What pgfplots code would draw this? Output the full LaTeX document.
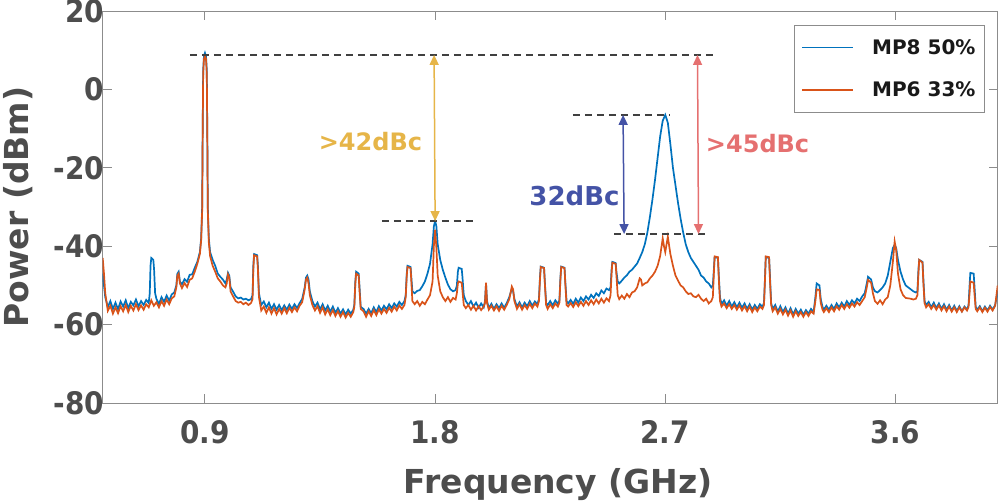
\documentclass[border=0pt]{standalone}
\usepackage{pgfplots}
\pgfplotsset{compat=1.18}
\usepackage{fontspec}
\setmainfont{DejaVu Sans}
\newfontfamily\condfont{DejaVu Sans Condensed}
\usetikzlibrary{arrows.meta}
\definecolor{mblue}{RGB}{0,114,189}
\definecolor{morange}{RGB}{217,83,25}
\definecolor{txtgray}{RGB}{77,77,77}
\definecolor{axgray}{RGB}{140,140,140}
\definecolor{agold}{RGB}{230,181,72}
\definecolor{ared}{RGB}{229,112,112}
\definecolor{aindigo}{RGB}{68,83,166}
\definecolor{dashgray}{RGB}{64,64,64}
\begin{document}
\begin{tikzpicture}
\useasboundingbox (-102.7bp,-101bp) rectangle (896.3bp,403bp);
\begin{axis}[
  at={(0,0)}, anchor=south west,
  scale only axis, width=895bp, height=392bp,
  xmin=0.5, xmax=4.0, ymin=-80, ymax=20,
  xtick={0.9,1.8,2.7,3.6}, xticklabels={0.9,1.8,2.7,3.6},
  ytick={-80,-60,-40,-20,0,20}, yticklabels={-80,-60,-40,-20,0,20},
  tick align=inside, major tick length=9bp,
  axis line style={axgray, line width=1bp},
  every tick/.style={axgray, line width=1bp},
  tick label style={font=\condfont\fontsize{31bp}{36bp}\selectfont\bfseries, text=txtgray},
  xticklabel style={yshift=-14bp},
  yticklabel style={xshift=5bp},
  xlabel={Frequency (GHz)}, ylabel={Power (dBm)},
  xlabel style={font=\fontsize{33bp}{38bp}\selectfont\bfseries, text=txtgray, at={(axis description cs:0.509,-0.2296)}, anchor=base},
  ylabel style={font=\fontsize{33bp}{38bp}\selectfont\bfseries, text=txtgray, at={(axis description cs:-0.095,0.5)}, anchor=center},
  legend style={at={(axis description cs:0.9858,0.9643)}, anchor=north east, draw=axgray, line width=1bp,
    font=\fontsize{20bp}{24bp}\selectfont\bfseries, text=black!90, inner xsep=7bp, inner ysep=12bp, row sep=22bp,
    /tikz/every odd column/.append style={column sep=16bp}},
  legend image code/.code={\draw[#1, line width=1.5bp] (0bp,0bp) -- (51bp,0bp);},
  legend cell align=left,
]
\addplot[mblue, line width=1.7bp] coordinates {
(0.500,-47) (0.505,-50) (0.510,-53) (0.520,-55.5) (0.530,-54.0) (0.540,-56.0) (0.550,-54.4) (0.560,-56.1)
(0.570,-54.1) (0.580,-55.4) (0.590,-53.8) (0.600,-55.8) (0.610,-54.2) (0.620,-55.1) (0.630,-53.6) (0.640,-55.3)
(0.650,-54.0) (0.660,-55.0) (0.670,-53.7) (0.680,-54.5) (0.684,-52) (0.687,-45) (0.690,-43) (0.698,-43.5)
(0.701,-46) (0.705,-52) (0.710,-53.4) (0.720,-54.8) (0.730,-53.0) (0.740,-54.2) (0.750,-52.6) (0.760,-53.9)
(0.770,-52.3) (0.780,-51.8) (0.788,-50) (0.792,-47) (0.797,-46.5) (0.802,-49) (0.810,-49.7) (0.820,-48.4)
(0.830,-49.1) (0.840,-47.3) (0.850,-47.2) (0.860,-45.5) (0.870,-44.0) (0.880,-41.5) (0.885,-38) (0.889,-30)
(0.891,-10) (0.893,5) (0.896,8.5) (0.900,9.3) (0.904,8.5) (0.907,5) (0.909,-10) (0.911,-30) (0.915,-38) (0.920,-41.5)
(0.930,-43.5) (0.940,-45.0) (0.950,-47.0) (0.960,-47.8) (0.970,-48.5) (0.980,-49.5) (0.985,-48.5) (0.990,-46.8)
(0.995,-47.5) (1.000,-50.5) (1.010,-51.6) (1.020,-52.8) (1.030,-53.3) (1.040,-53.1) (1.050,-53.6) (1.060,-53.4)
(1.070,-53.8) (1.080,-53.5) (1.086,-52.5) (1.089,-45) (1.092,-42) (1.104,-42.3) (1.107,-45) (1.111,-52)
(1.120,-55.0) (1.130,-54.1) (1.140,-55.6) (1.150,-54.4) (1.160,-56.0) (1.170,-54.8) (1.180,-56.2)
(1.190,-55.0) (1.200,-56.3) (1.210,-55.1) (1.220,-56.2) (1.230,-54.9) (1.240,-56.0) (1.250,-54.8) (1.260,-55.8)
(1.270,-54.5) (1.280,-53.5) (1.290,-50.5) (1.295,-48) (1.300,-47.5) (1.305,-48.5) (1.310,-51.5) (1.320,-54.0)
(1.330,-55.4) (1.340,-54.4) (1.350,-56.1) (1.360,-54.8) (1.370,-56.4) (1.380,-55.2) (1.390,-56.7) (1.400,-55.4)
(1.410,-57.0) (1.420,-55.8) (1.430,-57.2) (1.440,-56.1) (1.450,-57.4) (1.460,-56.2) (1.470,-57.2) (1.480,-56.2)
(1.484,-55) (1.488,-49) (1.491,-46.5) (1.501,-47) (1.504,-50) (1.509,-55.5) (1.520,-56.0)
(1.530,-57.2) (1.540,-56.0) (1.550,-57.1) (1.560,-55.6) (1.570,-56.8) (1.580,-55.3) (1.590,-56.4) (1.600,-55.2)
(1.610,-56.1) (1.620,-54.8) (1.630,-55.8) (1.640,-54.6) (1.650,-55.4) (1.660,-54.2) (1.670,-55.0) (1.680,-54.0)
(1.685,-52.5) (1.689,-47) (1.692,-45) (1.704,-45.3) (1.707,-48) (1.711,-51.5) (1.720,-52.0) (1.730,-51.4)
(1.740,-51.2) (1.750,-50.2) (1.760,-49.0) (1.770,-47.0) (1.780,-44.5) (1.790,-39.5) (1.795,-35) (1.800,-33.5)
(1.805,-35) (1.810,-39.5) (1.820,-43.5) (1.830,-46.0) (1.840,-48.0) (1.850,-49.8) (1.860,-51.0) (1.870,-51.5)
(1.880,-51.2) (1.885,-50) (1.889,-46.5) (1.892,-45.5) (1.904,-45.8) (1.907,-48) (1.912,-52.5) (1.920,-54.0)
(1.930,-55.0) (1.940,-54.0) (1.950,-55.4) (1.960,-54.4) (1.970,-55.7) (1.980,-54.6) (1.990,-55.6) (1.995,-54)
(1.999,-49.5) (2.003,-54) (2.010,-55.8) (2.020,-54.7) (2.030,-56.0) (2.040,-54.8) (2.050,-55.8) (2.060,-54.6)
(2.070,-55.7) (2.080,-54.5) (2.090,-53.0) (2.100,-50.8) (2.105,-51.5) (2.110,-53.5) (2.120,-55.4) (2.130,-54.3)
(2.140,-55.6) (2.150,-54.4) (2.160,-55.3) (2.170,-54.0) (2.180,-55.2) (2.190,-54.1) (2.200,-54.8)
(2.206,-53.5) (2.210,-48) (2.213,-45.2) (2.226,-45.5) (2.229,-49) (2.234,-54.5) (2.240,-55.0) (2.250,-54.0) (2.260,-55.1)
(2.270,-53.8) (2.280,-54.7) (2.286,-53.8) (2.290,-48) (2.293,-45.2) (2.306,-45.5) (2.309,-49) (2.314,-54)
(2.320,-54.6) (2.330,-53.7) (2.340,-54.7) (2.350,-53.4) (2.360,-54.4) (2.370,-53.1) (2.380,-54.0) (2.390,-52.8)
(2.400,-53.6) (2.410,-52.4) (2.420,-53.2) (2.430,-52.0) (2.440,-52.7) (2.450,-51.3) (2.460,-52.0) (2.470,-50.8)
(2.480,-51.2) (2.486,-50.5) (2.490,-46) (2.493,-44) (2.506,-44.3) (2.509,-46.5) (2.514,-49) (2.520,-49.5)
(2.530,-48.8) (2.540,-48.0) (2.550,-47.4) (2.560,-46.5) (2.570,-46.0) (2.580,-45.2) (2.590,-44.4) (2.600,-43.0)
(2.610,-41.5) (2.620,-39.5) (2.630,-36.5) (2.640,-32.5) (2.650,-28.0) (2.660,-23.0) (2.670,-17.5) (2.680,-12.0)
(2.690,-8.0) (2.700,-6.5) (2.710,-8.5) (2.720,-14.0) (2.730,-20.0) (2.740,-24.5) (2.750,-29.0) (2.760,-33.0)
(2.770,-36.5) (2.780,-39.5) (2.790,-41.5) (2.800,-43.0) (2.810,-44.0) (2.820,-45.0) (2.830,-46.0) (2.840,-47.5)
(2.850,-48.0) (2.860,-49.0) (2.870,-49.5) (2.880,-50.5) (2.886,-50.0) (2.890,-46) (2.893,-42.8) (2.906,-43)
(2.909,-47) (2.914,-53) (2.920,-54.8) (2.930,-53.8) (2.940,-55.2) (2.950,-54.0) (2.960,-55.4) (2.970,-54.3)
(2.980,-55.6) (2.990,-54.4) (3.000,-55.7) (3.010,-54.6) (3.020,-56.0) (3.030,-54.8) (3.040,-56.2) (3.050,-55.0)
(3.060,-56.0) (3.070,-54.8) (3.080,-55.4) (3.086,-54.5) (3.090,-48) (3.093,-42.8) (3.106,-43) (3.109,-47)
(3.114,-54.5) (3.120,-56.0) (3.130,-55.0) (3.140,-56.7) (3.150,-55.3) (3.160,-56.8) (3.170,-55.6) (3.180,-57.2)
(3.190,-55.8) (3.200,-57.4) (3.210,-56.0) (3.220,-57.2) (3.230,-56.2) (3.240,-57.5) (3.250,-56.3) (3.260,-57.2)
(3.270,-56.0) (3.280,-56.8) (3.287,-53.0) (3.292,-49.5) (3.303,-50.0) (3.308,-53.5) (3.315,-55.5) (3.320,-56.2)
(3.330,-55.2) (3.340,-56.2) (3.350,-55.0) (3.360,-56.0) (3.370,-54.6) (3.380,-55.6) (3.390,-54.4) (3.400,-55.4)
(3.410,-54.0) (3.420,-55.0) (3.430,-53.8) (3.440,-54.6) (3.450,-53.4) (3.460,-54.0) (3.470,-52.8) (3.480,-52.0)
(3.488,-49.5) (3.493,-47.8) (3.505,-48.5) (3.512,-50.5) (3.520,-51.5) (3.530,-51.8) (3.540,-51.2) (3.550,-50.5)
(3.560,-49.5) (3.570,-47.5) (3.580,-44.0) (3.590,-40.5) (3.597,-39.6) (3.603,-40.5) (3.610,-43.5) (3.620,-46.5)
(3.630,-48.5) (3.640,-50.0) (3.650,-50.5) (3.660,-51.0) (3.670,-51.5) (3.680,-51.8) (3.686,-51.5) (3.690,-46)
(3.693,-43.5) (3.706,-44) (3.709,-48) (3.714,-54) (3.720,-55.0) (3.730,-54.2) (3.740,-55.6) (3.750,-54.4)
(3.760,-55.8) (3.770,-54.6) (3.780,-56.0) (3.790,-54.8) (3.800,-56.2) (3.810,-55.0) (3.820,-56.4) (3.830,-55.2)
(3.840,-56.5) (3.850,-55.3) (3.860,-56.6) (3.870,-55.4) (3.880,-56.2) (3.886,-55.0) (3.890,-50) (3.893,-46.8)
(3.906,-47) (3.909,-50) (3.914,-55.5) (3.920,-56.2) (3.930,-55.3) (3.940,-56.6) (3.950,-55.4) (3.960,-56.4)
(3.970,-55.2) (3.980,-56.2) (3.990,-55.0) (4.000,-51.5)
};
\addlegendentry{MP8 50\%}
\addplot[morange, line width=1.7bp] coordinates {
(0.500,-43) (0.505,-47) (0.510,-52) (0.520,-56.5) (0.530,-55.2) (0.540,-57.2) (0.550,-55.6) (0.560,-57.1)
(0.570,-55.3) (0.580,-56.6) (0.590,-55.0) (0.600,-56.8) (0.610,-55.2) (0.620,-56.4) (0.630,-54.8) (0.640,-56.3)
(0.650,-55.1) (0.660,-56.2) (0.670,-54.8) (0.680,-55.6) (0.690,-53.8) (0.700,-55.2) (0.710,-54.3) (0.720,-55.6)
(0.730,-54.0) (0.740,-55.2) (0.750,-53.6) (0.760,-54.8) (0.770,-53.3) (0.780,-52.8) (0.788,-50.5) (0.792,-47.5)
(0.797,-47) (0.802,-49.5) (0.810,-50.7) (0.820,-49.4) (0.830,-50.4) (0.840,-48.6) (0.850,-48.2) (0.860,-46.5)
(0.870,-44.5) (0.880,-42.0) (0.885,-38.5) (0.889,-31) (0.891,-11) (0.893,4) (0.896,7.8) (0.900,8.5) (0.904,7.8)
(0.907,4) (0.909,-11) (0.911,-31) (0.915,-39) (0.920,-42.5) (0.930,-45.0) (0.940,-46.5) (0.950,-48.2) (0.960,-49.0)
(0.970,-50.0) (0.980,-50.5) (0.985,-49.5) (0.990,-47.2) (0.995,-48.0) (1.000,-51.5) (1.010,-52.8) (1.020,-54.0)
(1.030,-54.4) (1.040,-54.2) (1.050,-54.8) (1.060,-54.4) (1.070,-55.0) (1.080,-54.5) (1.086,-53.5) (1.089,-46)
(1.092,-42.3) (1.104,-42.6) (1.107,-46) (1.111,-53) (1.120,-56.4) (1.130,-55.4) (1.140,-57.0)
(1.150,-55.6) (1.160,-57.2) (1.170,-55.8) (1.180,-57.4) (1.190,-56.0) (1.200,-57.2) (1.210,-55.8) (1.220,-57.1)
(1.230,-55.7) (1.240,-56.8) (1.250,-55.6) (1.260,-56.6) (1.270,-55.2) (1.280,-54.3) (1.290,-51.0) (1.295,-48.5)
(1.300,-48.0) (1.305,-49.5) (1.310,-52.5) (1.320,-55.0) (1.330,-56.4) (1.340,-55.3) (1.350,-57.0) (1.360,-55.6)
(1.370,-57.4) (1.380,-56.1) (1.390,-57.6) (1.400,-56.3) (1.410,-57.8) (1.420,-56.6) (1.430,-58.0) (1.440,-56.8)
(1.450,-58.2) (1.460,-57.0) (1.470,-58.0) (1.480,-56.8) (1.484,-55.5) (1.488,-49.5) (1.491,-47) (1.501,-47.5)
(1.504,-51) (1.509,-56) (1.520,-56.6) (1.530,-58.0) (1.540,-56.6) (1.550,-57.8) (1.560,-56.3)
(1.570,-57.6) (1.580,-56.1) (1.590,-57.2) (1.600,-56.0) (1.610,-57.0) (1.620,-55.7) (1.630,-56.7) (1.640,-55.4)
(1.650,-56.4) (1.660,-55.1) (1.670,-56.0) (1.680,-55.0) (1.685,-53.0) (1.689,-47.5) (1.692,-45.3) (1.704,-45.6)
(1.707,-49) (1.711,-54.0) (1.720,-54.8) (1.730,-54.0) (1.740,-55.2) (1.750,-54.2) (1.760,-54.8) (1.770,-53.6)
(1.780,-52.5) (1.790,-49.0) (1.795,-40) (1.800,-35.8) (1.805,-40.5) (1.810,-47.5) (1.820,-51.5) (1.830,-53.0)
(1.840,-54.0) (1.850,-53.0) (1.860,-54.2) (1.870,-53.2) (1.880,-53.6) (1.885,-52.0) (1.889,-49.5) (1.892,-49)
(1.904,-49.3) (1.907,-51.5) (1.912,-55.0) (1.920,-55.8) (1.930,-55.0) (1.940,-56.2) (1.950,-55.2) (1.960,-56.4)
(1.970,-55.3) (1.980,-56.3) (1.990,-55.4) (1.995,-54.5) (1.999,-49.3) (2.003,-54.5) (2.010,-56.2) (2.020,-55.2)
(2.030,-56.4) (2.040,-55.3) (2.050,-56.5) (2.060,-55.2) (2.070,-56.2) (2.080,-55.0) (2.090,-53.5) (2.100,-50.3)
(2.105,-51.0) (2.110,-54.0) (2.120,-56.0) (2.130,-54.8) (2.140,-56.2) (2.150,-55.0) (2.160,-56.0) (2.170,-54.7)
(2.180,-55.8) (2.190,-54.6) (2.200,-55.4) (2.206,-54.0) (2.210,-48.5) (2.213,-45.3) (2.226,-45.6) (2.229,-49.5)
(2.234,-55) (2.240,-56.0) (2.250,-54.8) (2.260,-55.8) (2.270,-54.6) (2.280,-55.4) (2.286,-54.4) (2.290,-48.5)
(2.293,-45.3) (2.306,-45.6) (2.309,-49.5) (2.314,-55) (2.320,-55.4) (2.330,-54.5) (2.340,-55.5) (2.350,-54.3)
(2.360,-55.3) (2.370,-54.2) (2.380,-55.2) (2.390,-54.0) (2.400,-55.0) (2.410,-53.8) (2.420,-54.8) (2.430,-53.6)
(2.440,-54.6) (2.450,-53.4) (2.460,-54.4) (2.470,-53.3) (2.480,-54.0) (2.486,-52.5) (2.490,-47) (2.493,-44.2)
(2.506,-44.5) (2.509,-47.5) (2.514,-52.5) (2.520,-53.5) (2.530,-52.6) (2.540,-53.4) (2.550,-52.2) (2.560,-53.0)
(2.570,-51.8) (2.580,-51.5) (2.590,-50.5) (2.600,-48.2) (2.605,-48.5) (2.610,-50.0) (2.620,-49.5) (2.630,-49.2)
(2.640,-48.2) (2.650,-47.5) (2.660,-46.5) (2.670,-45.0) (2.680,-42.5) (2.690,-38.0) (2.695,-40.0) (2.700,-41.5)
(2.705,-39.5) (2.710,-37.6) (2.720,-42.0) (2.730,-45.0) (2.740,-47.5) (2.750,-48.8) (2.760,-50.0) (2.770,-50.5)
(2.780,-51.5) (2.790,-52.2) (2.800,-52.0) (2.810,-52.8) (2.820,-53.0) (2.830,-52.4) (2.840,-53.4) (2.850,-54.0)
(2.860,-53.4) (2.870,-54.6) (2.880,-54.0) (2.886,-53.0) (2.890,-47) (2.893,-42.6) (2.906,-42.8) (2.909,-48)
(2.914,-54) (2.920,-55.4) (2.930,-54.6) (2.940,-55.8) (2.950,-54.8) (2.960,-56.0) (2.970,-55.0) (2.980,-56.2)
(2.990,-55.1) (3.000,-56.4) (3.010,-55.3) (3.020,-56.6) (3.030,-55.4) (3.040,-56.8) (3.050,-55.6) (3.060,-56.6)
(3.070,-55.4) (3.080,-56.0) (3.086,-55.0) (3.090,-48.5) (3.093,-42.6) (3.106,-42.8) (3.109,-48) (3.114,-55)
(3.120,-56.6) (3.130,-55.6) (3.140,-57.2) (3.150,-56.0) (3.160,-57.4) (3.170,-56.2) (3.180,-57.7) (3.190,-56.4)
(3.200,-58.0) (3.210,-56.6) (3.220,-57.8) (3.230,-56.8) (3.240,-58.0) (3.250,-56.8) (3.260,-57.8) (3.270,-56.6)
(3.280,-57.2) (3.287,-54.0) (3.292,-51.0) (3.303,-51.2) (3.308,-54.5) (3.315,-56.2) (3.320,-56.8) (3.330,-55.8)
(3.340,-56.8) (3.350,-55.6) (3.360,-56.6) (3.370,-55.3) (3.380,-56.2) (3.390,-55.0) (3.400,-56.0) (3.410,-54.8)
(3.420,-55.7) (3.430,-54.6) (3.440,-55.4) (3.450,-54.3) (3.460,-55.0) (3.470,-54.0) (3.480,-53.0) (3.488,-50.5)
(3.493,-48.6) (3.505,-49.3) (3.512,-52.0) (3.520,-54.0) (3.530,-54.7) (3.540,-53.8) (3.550,-54.8) (3.560,-53.6)
(3.570,-53.0) (3.580,-50.0) (3.590,-44.0) (3.597,-38.8) (3.603,-41.0) (3.610,-47.0) (3.620,-51.0) (3.630,-52.5)
(3.640,-53.2) (3.650,-53.3) (3.660,-53.4) (3.670,-53.6) (3.680,-53.4) (3.686,-52.5) (3.690,-47) (3.693,-43.5)
(3.706,-44.2) (3.709,-49) (3.714,-54.5) (3.720,-55.6) (3.730,-54.8) (3.740,-56.0) (3.750,-55.0) (3.760,-56.2)
(3.770,-55.1) (3.780,-56.4) (3.790,-55.3) (3.800,-56.6) (3.810,-55.4) (3.820,-56.7) (3.830,-55.6) (3.840,-56.8)
(3.850,-55.6) (3.860,-56.7) (3.870,-55.6) (3.880,-56.4) (3.886,-55.5) (3.890,-52) (3.893,-49) (3.906,-49.3)
(3.909,-52) (3.914,-56) (3.920,-56.6) (3.930,-55.6) (3.940,-56.8) (3.950,-55.7) (3.960,-56.7) (3.970,-55.5)
(3.980,-56.4) (3.990,-55.2) (4.000,-50)
};
\addlegendentry{MP6 33\%}
% annotations
\draw[dashgray, line width=1.8bp, dash pattern=on 7bp off 5bp] (axis cs:0.841,8.8) -- (axis cs:2.902,8.8);
\draw[dashgray, line width=1.8bp, dash pattern=on 7bp off 5bp] (axis cs:1.592,-33.6) -- (axis cs:1.964,-33.6);
\draw[dashgray, line width=1.8bp, dash pattern=on 7bp off 5bp] (axis cs:2.339,-6.5) -- (axis cs:2.718,-6.5);
\draw[dashgray, line width=1.8bp, dash pattern=on 7bp off 5bp] (axis cs:2.500,-36.9) -- (axis cs:2.875,-36.9);
\draw[agold, line width=1.5bp, {Triangle[width=9bp,length=10bp]}-{Triangle[width=9bp,length=10bp]}] (axis cs:1.796,8.8) -- (axis cs:1.800,-33.6);
\draw[aindigo, line width=1.5bp, {Triangle[width=9bp,length=10bp]}-{Triangle[width=9bp,length=10bp]}] (axis cs:2.535,-6.5) -- (axis cs:2.539,-36.9);
\draw[ared, line width=1.5bp, {Triangle[width=9bp,length=10bp]}-{Triangle[width=9bp,length=10bp]}] (axis cs:2.826,8.8) -- (axis cs:2.830,-36.9);
\node[text=agold, font=\fontsize{24bp}{28bp}\selectfont\bfseries] at (axis cs:1.547,-13.2) {>42dBc};
\node[text=aindigo, font=\fontsize{26bp}{30bp}\selectfont\bfseries] at (axis cs:2.345,-27.2) {32dBc};
\node[text=ared, font=\fontsize{24bp}{28bp}\selectfont\bfseries] at (axis cs:3.061,-13.9) {>45dBc};
\end{axis}
\end{tikzpicture}
\end{document}
